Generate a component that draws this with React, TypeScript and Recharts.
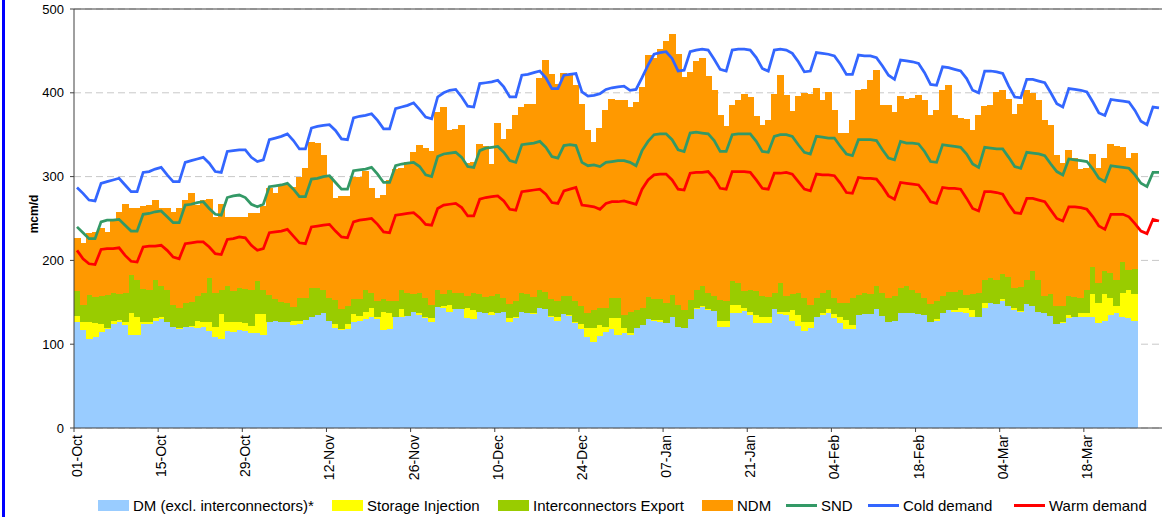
import {
  Bar,
  CartesianGrid,
  ComposedChart,
  Line,
  ReferenceLine,
  XAxis,
  YAxis,
} from "recharts";

// Gas demand, 01-Oct to end of March, one entry per day (mcm/d)
const TICK_LABELS = [
  "01-Oct", "15-Oct", "29-Oct", "12-Nov", "26-Nov", "10-Dec", "24-Dec",
  "07-Jan", "21-Jan", "04-Feb", "18-Feb", "04-Mar", "18-Mar",
];
const TICK_STEP = 14; // one label every two weeks

// stacked bars (days 0..176)
const DM = [
  126, 117, 106, 109, 115, 118, 124, 126, 123, 111,
  111, 124, 124, 128, 130, 126, 121, 118, 120, 120,
  119, 121, 116, 109, 106, 116, 115, 117, 116, 113,
  113, 111, 127, 128, 127, 126, 123, 124, 129, 133,
  135, 137, 128, 119, 117, 118, 126, 128, 130, 132,
  130, 117, 118, 132, 133, 134, 138, 135, 131, 126,
  144, 143, 139, 142, 142, 131, 130, 139, 137, 135,
  137, 139, 127, 131, 139, 137, 136, 143, 142, 133,
  128, 136, 134, 125, 118, 109, 103, 110, 115, 118,
  111, 113, 111, 119, 123, 130, 128, 127, 125, 133,
  120, 119, 130, 142, 144, 141, 140, 120, 120, 137,
  137, 140, 135, 125, 125, 125, 142, 136, 135, 128,
  122, 116, 119, 133, 135, 137, 131, 125, 118, 118,
  135, 136, 136, 142, 134, 126, 128, 137, 137, 137,
  136, 135, 126, 128, 137, 141, 139, 138, 137, 133,
  133, 143, 149, 148, 151, 145, 141, 139, 148, 145,
  139, 137, 134, 124, 125, 131, 133, 133, 133, 133,
  125, 128, 135, 137, 133, 131, 128,
];
const STORAGE = [
  8, 9, 20, 16, 9, 1, 4, 3, 4, 26,
  22, 2, 2, 3, 3, 1, 0, 1, 1, 2,
  9, 5, 11, 12, 30, 10, 11, 10, 9, 9,
  23, 25, 0, 0, 0, 1, 5, 4, 0, 0,
  0, 0, 0, 5, 1, 6, 10, 6, 8, 11,
  3, 21, 19, 1, 9, 0, 0, 2, 2, 5,
  0, 2, 8, 0, 0, 12, 11, 0, 0, 4,
  0, 0, 4, 1, 0, 0, 1, 0, 0, 1,
  5, 0, 1, 1, 6, 10, 16, 13, 6, 13,
  20, 6, 2, 0, 0, 0, 1, 2, 0, 0,
  0, 0, 0, 1, 1, 1, 0, 8, 8, 10,
  10, 3, 3, 10, 8, 8, 0, 2, 3, 13,
  13, 10, 7, 0, 2, 5, 5, 8, 11, 5,
  0, 0, 0, 0, 0, 0, 0, 0, 0, 0,
  0, 0, 1, 2, 0, 0, 2, 5, 6, 8,
  0, 6, 0, 0, 3, 0, 2, 1, 0, 0,
  0, 0, 0, 0, 1, 4, 0, 4, 4, 27,
  24, 32, 20, 8, 28, 34, 32,
];
const INTERCONNECTORS = [
  29, 21, 33, 31, 33, 40, 33, 31, 34, 46,
  44, 40, 39, 46, 36, 38, 26, 24, 28, 28,
  29, 35, 52, 40, 29, 44, 38, 40, 41, 43,
  39, 29, 32, 26, 23, 22, 16, 27, 26, 34,
  32, 28, 27, 29, 24, 21, 18, 20, 27, 18,
  18, 16, 14, 19, 23, 27, 22, 24, 22, 16,
  21, 15, 18, 19, 19, 14, 20, 21, 19, 19,
  23, 16, 17, 19, 22, 23, 19, 22, 20, 20,
  19, 22, 23, 26, 21, 18, 22, 20, 22, 24,
  24, 16, 26, 22, 20, 26, 25, 25, 24, 26,
  27, 22, 23, 22, 24, 19, 18, 25, 23, 28,
  26, 20, 27, 28, 25, 23, 19, 35, 19, 19,
  26, 29, 21, 22, 24, 23, 19, 16, 20, 32,
  24, 25, 24, 27, 27, 29, 29, 30, 32, 28,
  25, 20, 21, 21, 21, 21, 21, 22, 16, 19,
  28, 28, 30, 29, 30, 35, 24, 28, 29, 42,
  38, 20, 26, 22, 19, 23, 23, 18, 28, 32,
  24, 27, 30, 32, 37, 24, 30,
];
const NDM = [
  64, 74, 74, 78, 82, 75, 87, 98, 106, 80,
  85, 99, 101, 95, 93, 97, 111, 119, 123, 130,
  109, 111, 94, 91, 102, 82, 88, 85, 86, 91,
  81, 100, 127, 127, 140, 141, 144, 144, 155, 174,
  173, 161, 145, 122, 135, 132, 145, 146, 142, 125,
  124, 124, 145, 157, 145, 156, 169, 177, 179, 184,
  212, 223, 191, 196, 201, 159, 157, 179, 180, 157,
  204, 190, 209, 223, 222, 227, 231, 253, 277, 268,
  259, 266, 265, 257, 242, 219, 200, 215, 237, 238,
  237, 256, 244, 248, 264, 289, 288, 298, 313, 311,
  299, 278, 272, 273, 273, 259, 245, 220, 209, 210,
  218, 235, 230, 209, 204, 212, 237, 248, 240, 218,
  235, 245, 252, 251, 230, 236, 224, 203, 203, 213,
  244, 244, 255, 258, 224, 230, 220, 229, 224, 229,
  236, 236, 225, 228, 245, 247, 211, 205, 210, 196,
  212, 207, 206, 224, 219, 213, 208, 219, 226, 213,
  214, 211, 202, 180, 171, 174, 166, 154, 145, 135,
  137, 135, 154, 160, 137, 133, 138,
];

// lines (days 0..180)
const SND = [
  240, 233, 226, 226, 246, 248, 248, 249, 242, 235,
  235, 255, 256, 258, 259, 252, 245, 245, 266, 267,
  269, 270, 262, 255, 254, 275, 277, 278, 275, 267,
  264, 267, 288, 289, 290, 292, 285, 276, 276, 297,
  298, 300, 301, 293, 285, 285, 307, 308, 309, 311,
  303, 293, 293, 313, 315, 316, 317, 312, 302, 300,
  324, 327, 328, 329, 323, 312, 311, 331, 334, 335,
  336, 329, 319, 317, 338, 339, 340, 342, 335, 324,
  322, 337, 338, 337, 317, 313, 314, 312, 317, 318,
  319, 319, 317, 313, 331, 342, 350, 351, 351, 344,
  332, 330, 352, 353, 352, 351, 343, 330, 330, 350,
  351, 351, 351, 342, 330, 329, 348, 350, 350, 348,
  338, 329, 327, 348, 347, 346, 346, 336, 327, 325,
  344, 344, 344, 343, 332, 322, 320, 342, 340, 340,
  339, 330, 318, 317, 338, 337, 336, 335, 327, 315,
  311, 335, 334, 333, 333, 323, 312, 310, 329, 328,
  327, 325, 315, 306, 302, 321, 320, 319, 318, 309,
  298, 294, 313, 312, 311, 310, 302, 292, 288, 305,
  305,
];
const COLD = [
  287, 280, 272, 271, 292, 294, 296, 298, 290, 282,
  282, 305, 306, 309, 311, 302, 294, 294, 317, 319,
  321, 323, 316, 306, 305, 330, 331, 332, 332, 323,
  318, 320, 344, 346, 348, 351, 343, 333, 333, 358,
  360, 361, 362, 355, 345, 344, 370, 372, 373, 375,
  367, 357, 357, 381, 383, 385, 388, 380, 371, 369,
  395, 400, 403, 404, 395, 384, 383, 411, 412, 413,
  415, 407, 395, 395, 421, 422, 424, 426, 418, 405,
  405, 421, 422, 423, 401, 396, 397, 399, 404, 406,
  407, 408, 403, 404, 418, 433, 446, 448, 449, 441,
  426, 427, 449, 451, 452, 451, 440, 428, 426, 451,
  452, 452, 451, 442, 429, 426, 451, 452, 451, 447,
  437, 425, 426, 448, 447, 446, 444, 434, 422, 422,
  445, 444, 444, 442, 432, 421, 416, 439, 438, 437,
  435, 424, 410, 409, 431, 430, 428, 426, 417, 403,
  400, 426, 426, 425, 423, 408, 395, 394, 416, 416,
  414, 412, 400, 387, 383, 405, 404, 403, 401, 389,
  376, 373, 392, 391, 390, 389, 379, 366, 362, 383,
  382,
];
const WARM = [
  212, 202, 196, 195, 213, 214, 214, 215, 206, 199,
  198, 216, 217, 217, 218, 212, 204, 202, 220, 221,
  222, 222, 216, 208, 207, 225, 226, 228, 227, 218,
  212, 214, 233, 234, 235, 237, 229, 221, 220, 240,
  241, 242, 243, 235, 228, 227, 246, 248, 249, 250,
  243, 234, 233, 254, 255, 256, 257, 251, 243, 242,
  262, 266, 267, 268, 263, 253, 253, 273, 275, 276,
  277, 271, 261, 260, 282, 283, 284, 285, 279, 269,
  268, 283, 285, 287, 266, 265, 264, 261, 268, 270,
  270, 271, 269, 267, 285, 296, 302, 303, 303, 296,
  285, 284, 304, 305, 305, 306, 298, 286, 285, 306,
  306, 306, 305, 296, 286, 285, 304, 304, 305, 303,
  294, 285, 283, 303, 302, 302, 301, 292, 281, 280,
  299, 298, 298, 297, 288, 277, 273, 293, 292, 291,
  290, 281, 270, 268, 287, 286, 286, 285, 274, 262,
  259, 282, 282, 281, 279, 267, 257, 256, 274, 274,
  272, 270, 260, 250, 247, 264, 264, 263, 261, 252,
  241, 237, 255, 255, 255, 252, 244, 235, 232, 249,
  247,
];

const COLORS = {
  dm: "#99ccff",
  storage: "#ffff00",
  ic: "#99cc00",
  ndm: "#ff9900",
  snd: "#339966",
  cold: "#3366ff",
  warm: "#ff0000",
};

const LEGEND = [
  { label: "DM (excl. interconnectors)*", color: COLORS.dm, line: false },
  { label: "Storage Injection", color: COLORS.storage, line: false },
  { label: "Interconnectors Export", color: COLORS.ic, line: false },
  { label: "NDM", color: COLORS.ndm, line: false },
  { label: "SND", color: COLORS.snd, line: true },
  { label: "Cold demand", color: COLORS.cold, line: true },
  { label: "Warm demand", color: COLORS.warm, line: true },
];
// left edge of each legend swatch, px
const LEGEND_LEFT = [98, 332, 498, 702, 786, 868, 1014];

const WIDTH = 1162;
const HEIGHT = 517;
const AXIS_W = 74;
const PLOT_W = WIDTH - AXIS_W;
const BAND = PLOT_W / COLD.length;
const FONT = '"Liberation Sans", Arial, sans-serif';

const data = COLD.map((cold, i) => ({
  day: i,
  dm: DM[i],
  storage: STORAGE[i],
  ic: INTERCONNECTORS[i],
  ndm: NDM[i],
  snd: SND[i],
  cold,
  warm: WARM[i],
}));

// recharts floors the bar width, so stretch each bar over its full day band
function DayBar(props: any) {
  const { x, y, height, fill } = props;
  if (!height || height <= 0) return <g />;
  const x0 = Math.floor(x);
  const x1 = Math.ceil(x + BAND);
  return <rect x={x0} y={y} width={x1 - x0} height={height} fill={fill} shapeRendering="crispEdges" />;
}

function DayTick({ x, y, payload }: any) {
  const i = payload.value as number;
  if (i % TICK_STEP !== 0) return <g />;
  const half = BAND / 2;
  const ty = y + 7;
  return (
    <g>
      <line x1={x - half} x2={x - half} y1={y} y2={y + 4} stroke="#404040" />
      <text
        x={x}
        y={ty}
        transform={`rotate(-90 ${x} ${ty})`}
        textAnchor="end"
        dominantBaseline="central"
        fontSize={14}
        fill="#000"
      >
        {TICK_LABELS[i / TICK_STEP]}
      </text>
    </g>
  );
}

export default function App() {
  return (
    <div
      style={{
        position: "absolute",
        left: 0,
        top: 0,
        width: WIDTH,
        height: HEIGHT,
        overflow: "hidden",
        background: "#fff",
        fontFamily: FONT,
      }}
    >
      {/* blue frame edge on the left */}
      <div style={{ position: "absolute", left: 2, top: 0, width: 3, height: HEIGHT, background: "#0000ff" }} />
      <ComposedChart
        width={WIDTH}
        height={HEIGHT}
        data={data}
        margin={{ top: 9, right: 0, bottom: 0, left: 0 }}
        barCategoryGap={0}
        barGap={0}
      >
        <CartesianGrid vertical={false} stroke="#c8c8c8" strokeDasharray="7 4" />
        <XAxis
          dataKey="day"
          type="category"
          interval={0}
          height={HEIGHT - 9 - 419}
          tickSize={0}
          tickMargin={0}
          tickLine={false}
          axisLine={{ stroke: "#404040" }}
          tick={<DayTick />}
        />
        <YAxis
          width={AXIS_W}
          domain={[0, 500]}
          ticks={[0, 100, 200, 300, 400, 500]}
          tickSize={4}
          tickMargin={6}
          tick={{ fontSize: 13, fill: "#000" }}
          tickLine={{ stroke: "#404040" }}
          axisLine={{ stroke: "#404040" }}
        />
        <ReferenceLine y={500} stroke="#404040" />
        <Bar dataKey="dm" stackId="a" fill={COLORS.dm} shape={<DayBar />} isAnimationActive={false} />
        <Bar dataKey="storage" stackId="a" fill={COLORS.storage} shape={<DayBar />} isAnimationActive={false} />
        <Bar dataKey="ic" stackId="a" fill={COLORS.ic} shape={<DayBar />} isAnimationActive={false} />
        <Bar dataKey="ndm" stackId="a" fill={COLORS.ndm} shape={<DayBar />} isAnimationActive={false} />
        <Line dataKey="snd" stroke={COLORS.snd} strokeWidth={2.75} dot={false} activeDot={false} isAnimationActive={false} />
        <Line dataKey="cold" stroke={COLORS.cold} strokeWidth={2.75} dot={false} activeDot={false} isAnimationActive={false} />
        <Line dataKey="warm" stroke={COLORS.warm} strokeWidth={2.75} dot={false} activeDot={false} isAnimationActive={false} />
      </ComposedChart>

      <div
        style={{
          position: "absolute",
          left: 34,
          top: 214,
          transform: "translate(-50%, -50%) rotate(-90deg)",
          fontSize: 12,
          fontWeight: "bold",
          whiteSpace: "nowrap",
        }}
      >
        mcm/d
      </div>

      {LEGEND.map((item, i) => (
        <div
          key={item.label}
          style={{
            position: "absolute",
            left: LEGEND_LEFT[i],
            top: 497,
            height: 17,
            display: "flex",
            alignItems: "center",
            fontSize: 15,
            lineHeight: "17px",
            whiteSpace: "nowrap",
          }}
        >
          <div
            style={{
              width: 31,
              height: item.line ? 3 : 11,
              background: item.color,
              marginRight: 4,
            }}
          />
          <span>{item.label}</span>
        </div>
      ))}
    </div>
  );
}
